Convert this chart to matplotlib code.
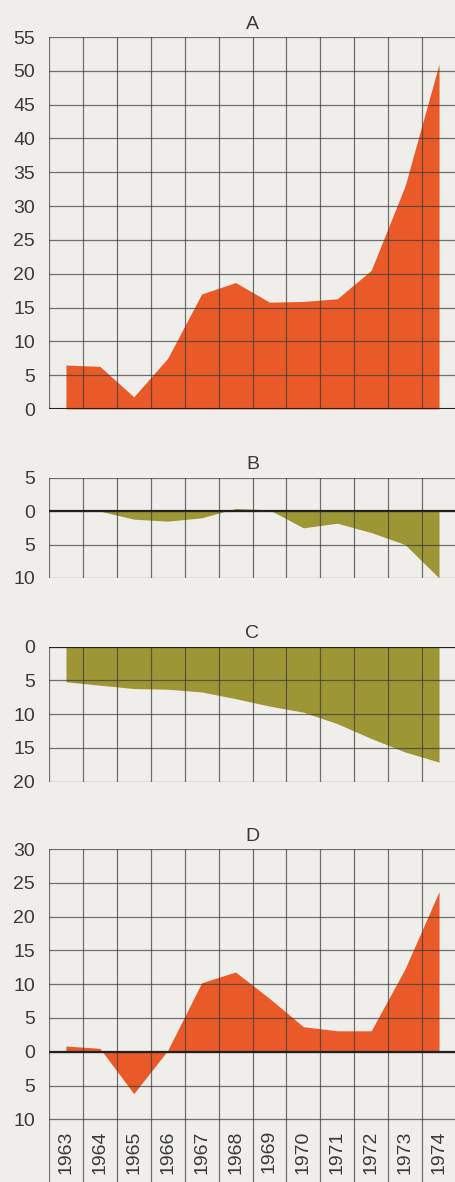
import matplotlib.pyplot as plt
import numpy as np

plt.rcParams['font.family'] = ['Liberation Sans', 'DejaVu Sans']

# dados
anos = [1963, 1964, 1965, 1966, 1967, 1968, 1969, 1970, 1971, 1972, 1973, 1974]
serie_a = [6.5, 6.3, 1.8, 7.5, 17.0, 18.7, 15.8, 15.9, 16.3, 20.5, 33.0, 51.0]
serie_b = [0.0, 0.0, -1.2, -1.5, -1.0, 0.4, 0.2, -2.5, -1.8, -3.2, -5.0, -10.0]
serie_c = [5.2, 5.7, 6.2, 6.3, 6.7, 7.7, 8.8, 9.7, 11.4, 13.6, 15.6, 17.1]
serie_d = [0.85, 0.5, -6.2, 0.2, 10.2, 11.8, 7.9, 3.7, 3.1, 3.1, 12.3, 23.7]

laranja = '#ea5a29'
oliva = '#9c9635'
fundo = '#efeeeb'
cor_grade = '#3a3a3a'
cor_texto = '#3a3a3a'

W, H = 456, 1182
fig = plt.figure(figsize=(W / 100, H / 100), dpi=100, facecolor=fundo)


def cria_eixo(topo, base):
    ax = fig.add_axes([49 / W, 1 - base / H, 1 - 49 / W, (base - topo) / H])
    ax.set_facecolor(fundo)
    ax.set_xlim(1962.5, 1974.5)
    for s in ['right', 'bottom', 'left', 'top']:
        ax.spines[s].set_visible(False)
    ax.tick_params(length=0, labelsize=14, pad=10, colors=cor_texto)
    ax.set_xticks([])
    return ax


def grade(ax, y0, y1, yticks):
    for x in np.arange(1962.5, 1975.5, 1):
        ax.plot([x, x], [y0, y1], color=cor_grade, lw=0.9, alpha=0.7, zorder=3)
    for y in yticks:
        ax.axhline(y, color=cor_grade, lw=0.9, alpha=0.7, zorder=3)


def rotulos(ax, ticks):
    ax.set_yticks(ticks)
    ax.set_yticklabels([str(abs(int(t))) for t in ticks])


# A
ax = cria_eixo(37, 409)
ticks = list(range(0, 56, 5))
ax.set_ylim(0, 55)
ax.fill_between(anos, 0, serie_a, color=laranja, lw=0, zorder=2)
grade(ax, 0, 55, ticks)
ax.axhline(0, color='#222222', lw=1.5, zorder=4)
rotulos(ax, ticks)
ax.set_title('A', fontsize=14, pad=6, color=cor_texto)

# B
ax = cria_eixo(477.7, 578)
ticks = [-10, -5, 0, 5]
ax.set_ylim(-10, 5)
ax.fill_between(anos, 0, serie_b, color=oliva, lw=0, zorder=2)
grade(ax, -10, 5, ticks)
ax.axhline(0, color='#222222', lw=1.6, zorder=4)
rotulos(ax, ticks)
ax.set_title('B', fontsize=14, pad=6, color=cor_texto)

# C
ax = cria_eixo(646.7, 781.7)
ticks = [0, 5, 10, 15, 20]
ax.set_ylim(20, 0)
ax.fill_between(anos, 0, serie_c, color=oliva, lw=0, zorder=2)
grade(ax, 0, 20, ticks)
ax.axhline(0, color='#222222', lw=1.5, zorder=4)
rotulos(ax, ticks)
ax.set_title('C', fontsize=14, pad=6, color=cor_texto)

# D
ax = cria_eixo(849, H)
ticks = [-10, -5, 0, 5, 10, 15, 20, 25, 30]
baixo = -(H - 1051.7) / (1119.3 - 1051.7) * 10
ax.set_ylim(baixo, 30)
ax.fill_between(anos, 0, serie_d, color=laranja, lw=0, zorder=2)
grade(ax, baixo, 30, ticks)
ax.axhline(0, color='#222222', lw=1.6, zorder=4)
rotulos(ax, ticks)
ax.set_title('D', fontsize=14, pad=6, color=cor_texto)
for ano in anos:
    ax.text(ano, -11.6, str(ano), rotation=90, ha='center', va='top',
            fontsize=14, color=cor_texto)

fig.savefig('out.png', dpi=100, facecolor=fundo)
